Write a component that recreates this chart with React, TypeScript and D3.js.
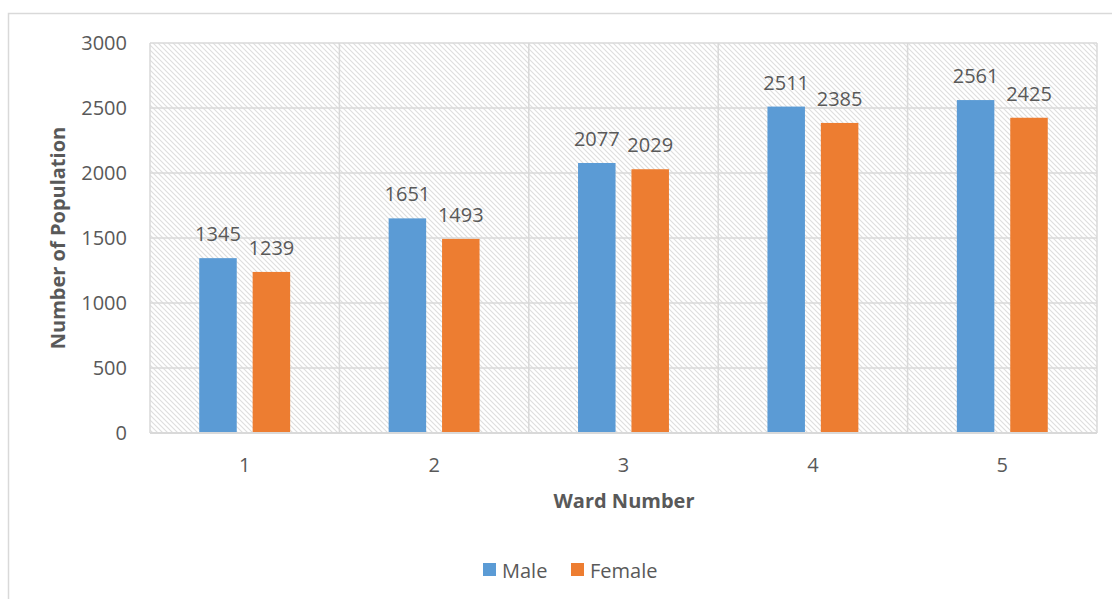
import React from "react";
import * as d3 from "d3";

const categories = ["1", "2", "3", "4", "5"];
const maleValues = [1345, 1651, 2077, 2511, 2561];
const femaleValues = [1239, 1493, 2029, 2385, 2425];
const yTicks = [0, 500, 1000, 1500, 2000, 2500, 3000];
const seriesNames = ["Male", "Female"];
const colors = ["#5b9bd5", "#ed7d31"];

const W = 1112;
const H = 599;
const left = 150;
const right = 1097;
const top = 43;
const bottom = 433;
const font = "'Open Sans', sans-serif";
const textColor = "#595959";
const grid = "#d9d9d9";

export default function App() {
  const x = d3.scaleBand<string>().domain(categories).range([left, right]).paddingInner(0).paddingOuter(0);
  const y = d3.scaleLinear().domain([0, 3000]).range([bottom, top]);
  const bw = x.bandwidth();
  const barW = bw * 0.198;
  const gap = bw * 0.084;
  const series = [maleValues, femaleValues];

  return (
    <svg width={W} height={H} style={{ position: "absolute", left: 0, top: 0 }}>
      <defs>
        <pattern id="hatch" patternUnits="userSpaceOnUse" width="5" height="5">
          <rect width="5" height="5" fill="#ffffff" />
          <path d="M-1,-1 L6,6 M-1,4 L1,6 M4,-1 L6,1" stroke="#dedede" strokeWidth="1.1" />
        </pattern>
      </defs>
      <rect x={0} y={0} width={W} height={H} fill="#ffffff" />
      <rect x={8.5} y={13.5} width={W + 10} height={H + 10} fill="none" stroke={grid} strokeWidth={1.5} />
      <rect x={left} y={top} width={right - left} height={bottom - top} fill="url(#hatch)" />
      {yTicks.map((t) => (
        <line key={"g" + t} x1={left} x2={right} y1={y(t)} y2={y(t)} stroke={grid} strokeWidth={1.5} />
      ))}
      {categories.map((c) => (
        <line key={"v" + c} x1={x(c)!} x2={x(c)!} y1={top} y2={bottom} stroke={grid} strokeWidth={1.5} />
      ))}
      <line x1={right} x2={right} y1={top} y2={bottom} stroke={grid} strokeWidth={1.5} />
      {categories.map((c, i) => {
        const cx = x(c)! + bw / 2;
        return series.map((vals, s) => {
          const bx = s === 0 ? cx - gap / 2 - barW : cx + gap / 2;
          return (
            <g key={c + s}>
              <rect x={bx} y={y(vals[i])} width={barW} height={bottom - y(vals[i])} fill={colors[s]} />
              <text
                x={bx + barW / 2}
                y={y(vals[i]) - 17}
                textAnchor="middle"
                fontFamily={font}
                fontSize={20}
                fill={textColor}
              >
                {vals[i]}
              </text>
            </g>
          );
        });
      })}
      <line x1={left} x2={right} y1={bottom} y2={bottom} stroke={grid} strokeWidth={2} />
      {yTicks.map((t) => (
        <text key={"t" + t} x={127} y={y(t) + 7} textAnchor="end" fontFamily={font} fontSize={20} fill={textColor}>
          {t}
        </text>
      ))}
      {categories.map((c) => (
        <text key={"x" + c} x={x(c)! + bw / 2} y={472} textAnchor="middle" fontFamily={font} fontSize={20} fill={textColor}>
          {c}
        </text>
      ))}
      <text x={624} y={508} textAnchor="middle" fontFamily={font} fontSize={20} fontWeight="bold" fill={textColor}>
        Ward Number
      </text>
      <text
        transform={`translate(65,238) rotate(-90)`}
        textAnchor="middle"
        fontFamily={font}
        fontSize={20}
        fontWeight="bold"
        fill={textColor}
      >
        Number of Population
      </text>
      <g>
        <rect x={483} y={563} width={13} height={13} fill={colors[0]} />
        <text x={502} y={578} fontFamily={font} fontSize={20} fill={textColor}>
          {seriesNames[0]}
        </text>
        <rect x={571} y={563} width={13} height={13} fill={colors[1]} />
        <text x={590} y={578} fontFamily={font} fontSize={20} fill={textColor}>
          {seriesNames[1]}
        </text>
      </g>
    </svg>
  );
}
